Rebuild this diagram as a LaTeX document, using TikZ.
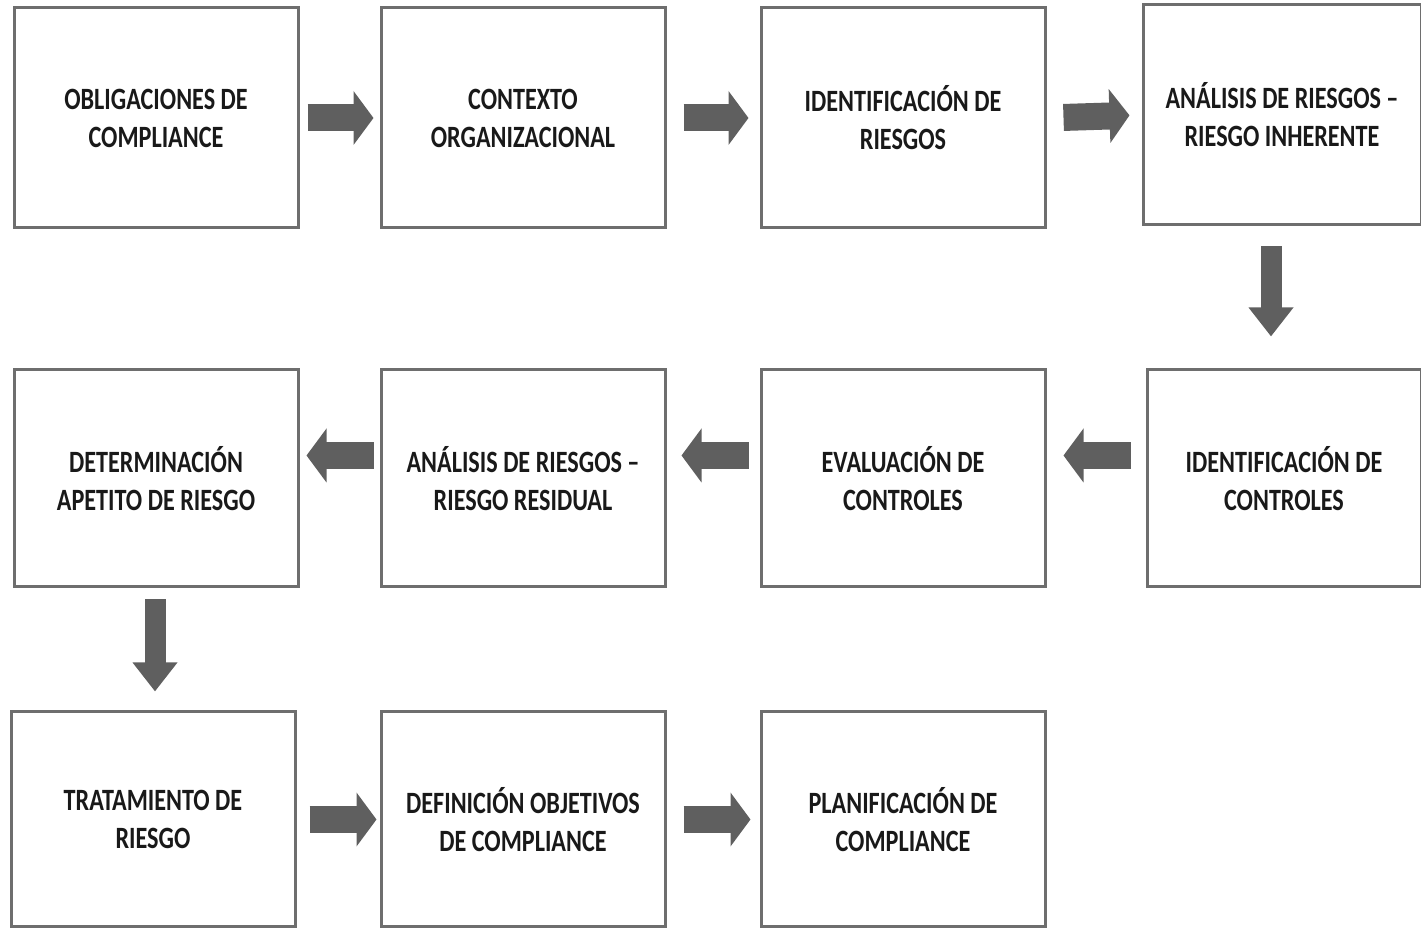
\documentclass[tikz,border=0pt]{standalone}
\usepackage{fontspec}
\usepackage{tikz}
\usetikzlibrary{arrows.meta,positioning,calc}
\newfontfamily\boxfont[FakeStretch=0.78]{Carlito}
\definecolor{boxline}{RGB}{110,110,110}
\definecolor{arrowgray}{RGB}{95,95,95}
\definecolor{inktext}{RGB}{25,25,25}

\begin{document}
\begin{tikzpicture}[x=0.5pt,y=-0.5pt,
  stagebox/.style={draw=boxline,line width=1.5pt,minimum width=142pt,minimum height=110pt,
    inner sep=0pt,align=center,text=inktext,font=\boxfont\bfseries\fontsize{15.5}{19}\selectfont},
  flowarrow/.style={draw=arrowgray,line width=13.5pt,-{Triangle[length=10pt,width=26.5pt]}},
  downarrow/.style={draw=arrowgray,line width=10.5pt,-{Triangle[length=14.5pt,width=21.5pt]}}]
  \useasboundingbox (0,0) rectangle (1421,929);
  % first row
  \node[stagebox] (oblig) at (156,118) {OBLIGACIONES DE\\COMPLIANCE};
  \node[stagebox] (contexto) at (523,118) {CONTEXTO\\ORGANIZACIONAL};
  \node[stagebox] (identrie) at (903,118) {IDENTIFICACIÓN DE\\RIESGOS};
  \node[stagebox,minimum width=139pt] (inherente) at (1282,115) {ANÁLISIS DE RIESGOS –\\RIESGO INHERENTE};
  % second row
  \node[stagebox,minimum height=108.5pt] (apetito) at (156,478.5) {DETERMINACIÓN\\APETITO DE RIESGO};
  \node[stagebox,minimum height=108.5pt] (residual) at (523,478.5) {ANÁLISIS DE RIESGOS –\\RIESGO RESIDUAL};
  \node[stagebox,minimum height=108.5pt] (evalctrl) at (903,478.5) {EVALUACIÓN DE\\CONTROLES};
  \node[stagebox,minimum width=137pt,minimum height=108.5pt] (identctrl) at (1284,478.5) {IDENTIFICACIÓN DE\\CONTROLES};
  % third row
  \node[stagebox,minimum height=107.5pt] (tratam) at (153,819.5) {TRATAMIENTO DE\\RIESGO};
  \node[stagebox,minimum height=107.5pt] (objet) at (523,819.5) {DEFINICIÓN OBJETIVOS\\DE COMPLIANCE};
  \node[stagebox,minimum height=107.5pt] (planif) at (903,819.5) {PLANIFICACIÓN DE\\COMPLIANCE};
  % arrows
  \draw[flowarrow,shorten <=4pt,shorten >=3pt] (oblig.east) -- (contexto.west);
  \draw[flowarrow,shorten <=8.5pt,shorten >=5.5pt] (contexto.east) -- (identrie.west);
  \draw[flowarrow,shorten <=8.5pt,shorten >=6pt] (identrie.east) -- (inherente.west);
  \draw[downarrow,shorten <=10pt,shorten >=16pt] ([xshift=-5.5pt]inherente.south) -- ([xshift=-6.5pt]identctrl.north);
  \draw[flowarrow,shorten <=7.5pt,shorten >=8.5pt] ([yshift=11.5pt]identctrl.west) -- ([yshift=11.5pt]evalctrl.east);
  \draw[flowarrow,shorten <=5.5pt,shorten >=7.5pt] ([yshift=11.5pt]evalctrl.west) -- ([yshift=11.5pt]residual.east);
  \draw[flowarrow,shorten <=3pt,shorten >=3.5pt] ([yshift=11.5pt]residual.west) -- ([yshift=11.5pt]apetito.east);
  \draw[downarrow,shorten <=5.5pt,shorten >=9.5pt] ([xshift=-0.5pt]apetito.south) -- ([xshift=1pt]tratam.north);
  \draw[flowarrow,shorten <=6.5pt,shorten >=1.5pt] (tratam.east) -- (objet.west);
  \draw[flowarrow,shorten <=8.5pt,shorten >=4.5pt] (objet.east) -- (planif.west);
\end{tikzpicture}
\end{document}
